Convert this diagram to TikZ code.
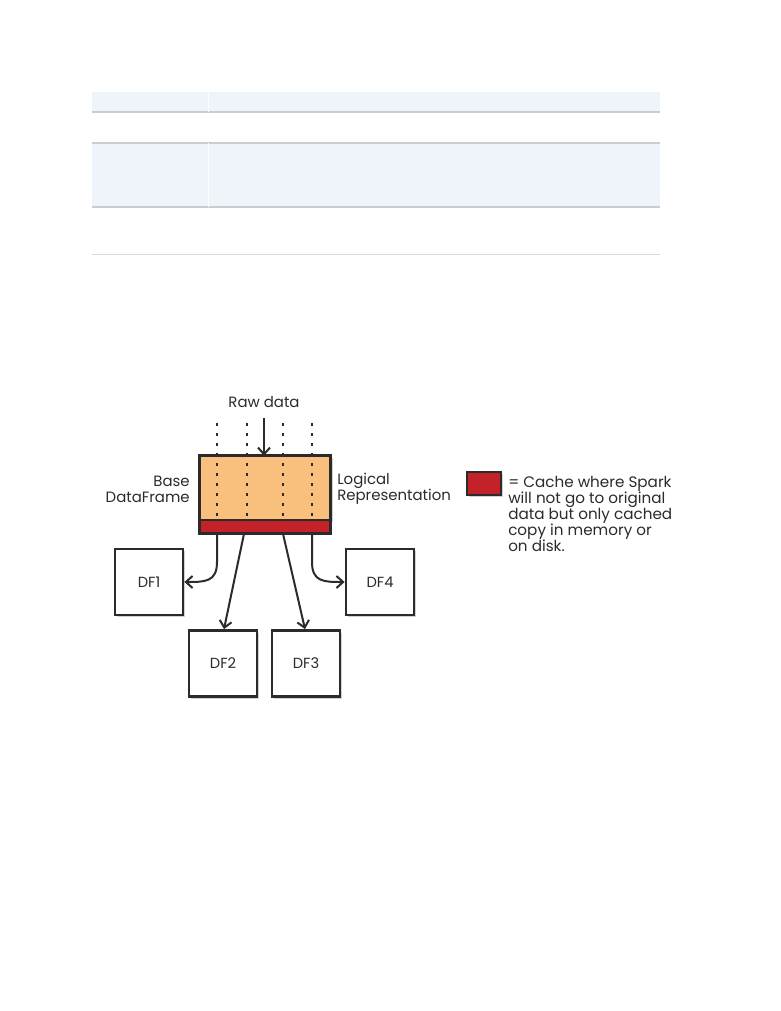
\documentclass[tikz,border=0pt]{standalone}
\usepackage{fontspec}
\setmainfont{Poppins}
\usetikzlibrary{arrows.meta,shadows}
\definecolor{band}{HTML}{EFF4FB}
\definecolor{rule}{HTML}{CCCCCC}
\definecolor{ink}{HTML}{2B2B2B}
\definecolor{orng}{HTML}{F9BF7C}
\definecolor{cachered}{HTML}{C42229}
\tikzset{
  sk/.style={draw=ink, line width=2.1pt},
  dfbox/.style={sk, fill=white, minimum width=51pt, minimum height=49.5pt, inner sep=0pt,
    font=\fontsize{11}{12}\selectfont, text=ink,
    drop shadow={shadow xshift=1.6pt, shadow yshift=-1.6pt, opacity=0.35}},
  lbl/.style={font=\fontsize{11.2}{12}\selectfont, text=ink, inner sep=0pt},
  dotline/.style={draw=ink, line width=2.1pt, dash pattern=on 2.2pt off 5.3pt},
  arr/.style={draw=ink, line width=1.5pt, -{Straight Barb[length=5pt,width=9pt,line width=1.5pt]}},
}
\begin{document}
\begin{tikzpicture}[x=0.75pt,y=-0.75pt]
\useasboundingbox (0,0) rectangle (781,1011);
\fill[white] (0,0) rectangle (781,1011);
% table
\fill[band] (92,92) rectangle (660,112);
\fill[band] (92,143) rectangle (660,207);
\draw[rule, line width=0.9pt] (92,112) -- (660,112);
\draw[rule, line width=0.9pt] (92,143) -- (660,143);
\draw[rule, line width=0.9pt] (92,207) -- (660,207);
\draw[rule!70, line width=0.9pt] (92,254.5) -- (660,254.5);
\draw[white!80!band, line width=0.3pt] (208,92) -- (208,112);
\draw[white!80!band, line width=0.3pt] (208,143) -- (208,207);
% main box
\node[fill=orng, minimum width=98.25pt, minimum height=48pt, inner sep=0pt,
  drop shadow={shadow xshift=1.6pt, shadow yshift=-1.6pt, opacity=0.35}] (base) at (265,488) {};
\node[fill=cachered, minimum width=98.25pt, minimum height=9.75pt, inner sep=0pt, anchor=north] (cache) at (base.south) {};
\draw[sk] (base.north west) rectangle (cache.south east);
\draw[ink, line width=1.2pt] (base.south west) -- (base.south east);
% dotted columns
\coordinate (d1) at (217,423);
\coordinate (d2) at (247,423);
\coordinate (d3) at (283,423);
\coordinate (d4) at (312,423);
\foreach \d in {d1,d2,d3,d4}{
  \draw[dotline] (\d) -- (\d |- base.south) ++(0,-4);
}
% labels
\node[lbl] (raw) at (264,402) {Raw data};
\draw[arr] (264,418) -- (base.north -| 264,0);
\node[lbl, align=right, anchor=east] (basel) at (190,489) {Base\\DataFrame};
\node[lbl, align=left, anchor=west] (logl) at (337,489) {Logical\\Representation};
% DF boxes
\node[dfbox] (df1) at (149,582) {DF1};
\node[dfbox] (df4) at (380,582) {DF4};
\node[dfbox] (df2) at (223,663.5) {DF2};
\node[dfbox] (df3) at (306,663.5) {DF3};
% arrows
\draw[arr] (cache.south -| d1) -- (217,562) .. controls (217,582) and (205,582) .. (df1.east);
\draw[arr] (cache.south -| d4) -- (312,562) .. controls (312,582) and (324,582) .. (df4.west);
\draw[arr] (cache.south -| d2) ++(-3,0) -- (df2.north -| 224,0);
\draw[arr] (cache.south -| d3) -- (df3.north -| 305,0);
% legend
\node[fill=cachered, draw=ink, line width=1.6pt, minimum width=25pt, minimum height=17pt, inner sep=0pt,
  drop shadow={shadow xshift=1.6pt, shadow yshift=-1.6pt, opacity=0.35}] (leg) at (484,483.5) {};
\node[lbl, align=left, anchor=north west, font=\fontsize{11.4}{12}\selectfont] (legt) at (508,475.5)
  {= Cache where Spark\\will not go to original\\data but only cached\\copy in memory or\\on disk.};
\end{tikzpicture}
\end{document}
